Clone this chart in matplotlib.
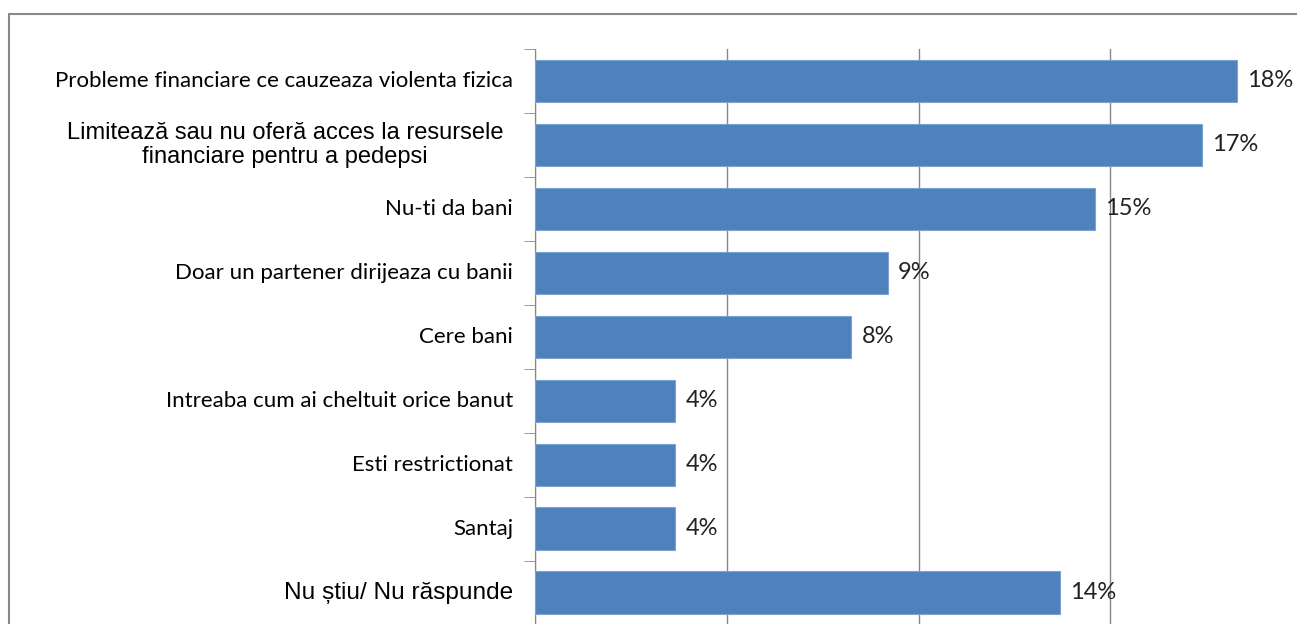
import matplotlib
matplotlib.use("Agg")
import matplotlib.pyplot as plt
from matplotlib.patches import Rectangle

# Data (percent; labels show rounded values)
categories = [
    "Probleme financiare ce cauzeaza violenta fizica",
    "Limitează sau nu oferă acces la resursele\nfinanciare pentru a pedepsi",
    "Nu-ti da bani",
    "Doar un partener dirijeaza cu banii",
    "Cere bani",
    "Intreaba cum ai cheltuit orice banut",
    "Esti restrictionat",
    "Santaj",
    "Nu știu/ Nu răspunde",
]
values = [18.3, 17.4, 14.6, 9.2, 8.25, 3.66, 3.66, 3.66, 13.7]
value_labels = ["18%", "17%", "15%", "9%", "8%", "4%", "4%", "4%", "14%"]

narrow = ["Lato", "DejaVu Sans"]
arial = ["Liberation Sans", "DejaVu Sans"]

W, H = 1297, 624
fig = plt.figure(figsize=(W / 100, H / 100), dpi=100)

# outer chart frame (cropped on right/bottom)
fig.patches.append(Rectangle((9 / W, -0.2), 1.2, 1.2 - 14 / H,
                             transform=fig.transFigure, fill=False,
                             edgecolor="#888888", linewidth=1.5))

x0, x20 = 535, 1302
ytop, ybot = 49, 624.5
ax = fig.add_axes([x0 / W, 1 - ybot / H, (x20 - x0) / W, (ybot - ytop) / H])

n = len(categories)
ypos = list(range(n))
ax.barh(ypos, values, height=0.66, color="#4F81BD", edgecolor="#7EA3D3",
        linewidth=0.8, zorder=3)
ax.set_ylim(n - 0.5, -0.5)
ax.set_xlim(0, 20)

ax.set_xticks([0, 5, 10, 15, 20])
ax.xaxis.grid(True, color="#868686", linewidth=1)
ax.tick_params(axis="x", length=0, labelbottom=False)
for s in ["top", "right", "bottom"]:
    ax.spines[s].set_visible(False)
ax.spines["left"].set_color("#868686")

# category boundary ticks on the left
ax.set_yticks([i - 0.5 for i in range(n + 1)], minor=True)
ax.set_yticks([])
ax.tick_params(axis="y", which="minor", length=8, color="#868686", direction="out")

px = 20 / (x20 - x0)  # data units per pixel
for i, (cat, v, lab) in enumerate(zip(categories, values, value_labels)):
    if i == 1:
        ax.text((285 - x0) * px, i, cat, ha="center", va="center",
                fontsize=17, family=arial, multialignment="center",
                linespacing=1.15)
    elif i == 8:
        ax.text(-22 * px, i, cat, ha="right", va="center", fontsize=17.6,
                family=arial)
    else:
        ax.text(-22 * px, i, cat, ha="right", va="center", fontsize=16,
                family=narrow)
    ax.text(v + 10 * px, i, lab, ha="left", va="center", fontsize=17,
            family=narrow, color="#222222")

fig.savefig("out.png", dpi=100)
